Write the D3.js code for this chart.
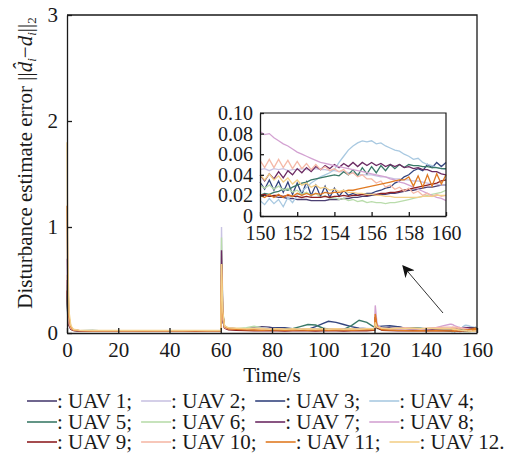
<!DOCTYPE html>
<html>
<head>
<meta charset="utf-8">
<script src="https://cdn.jsdelivr.net/npm/d3@7"></script>
<style>
  body { margin: 0; background: #fff; }
  text { font-family: "Liberation Serif", "Times New Roman", serif; fill: #1a1a1a; }
</style>
</head>
<body>
<svg id="chart" width="521" height="456"></svg>
<script>
// ---- data ----
const uavNames = ["UAV 1", "UAV 2", "UAV 3", "UAV 4", "UAV 5", "UAV 6",
                  "UAV 7", "UAV 8", "UAV 9", "UAV 10", "UAV 11", "UAV 12"];
const uavColors = ["#4b3f72", "#c9c3e3", "#34457e", "#a9c9e1", "#3b7a68", "#b9dcab",
                   "#6b2a62", "#d3a2d2", "#8e1f22", "#f5b9a8", "#e07a22", "#f3d089"];

// main plot sample times (0 - 149.5 s)
const mainT = [0, 0.3, 0.8, 1.5, 2.5, 5, 10, 15, 20, 25, 30, 35, 40, 45, 50, 55, 59.5,
  60, 60.3, 60.8, 61.5, 63, 66, 70, 73, 76, 79, 82, 85, 88, 91, 94, 97, 100, 102, 105,
  108, 111, 114, 117, 119.5, 120, 120.3, 121, 123, 126, 129, 132, 135, 138, 141, 144, 147, 149.5];

const mainVals = [
  [0.45,0.2,0.08,0.04,0.025, 0.02,0.018,0.022,0.02,0.019,0.021,0.02,0.018,0.02,0.022,0.02,0.02, 0.02,0.42,0.12,0.05, 0.04,0.035,0.04,0.05,0.06,0.055,0.04,0.035,0.03,0.03,0.028,0.03,0.035,0.04,0.035,0.03,0.028,0.03,0.03,0.03, 0.03,0.09,0.05, 0.045,0.055,0.06,0.045,0.035,0.03,0.035,0.045,0.04,0.025],
  [0.5,0.22,0.09,0.045,0.03, 0.022,0.02,0.021,0.019,0.02,0.022,0.02,0.021,0.019,0.02,0.021,0.02, 0.02,1.0,0.2,0.06, 0.045,0.04,0.035,0.04,0.045,0.04,0.035,0.035,0.04,0.038,0.035,0.04,0.042,0.04,0.035,0.038,0.04,0.04,0.042,0.04, 0.04,0.12,0.06, 0.045,0.04,0.045,0.05,0.045,0.04,0.045,0.05,0.048,0.045],
  [0.35,0.15,0.07,0.04,0.025, 0.02,0.021,0.019,0.02,0.022,0.02,0.019,0.021,0.02,0.02,0.019,0.02, 0.02,0.45,0.12,0.05, 0.04,0.035,0.03,0.035,0.04,0.045,0.05,0.05,0.04,0.03,0.035,0.06,0.09,0.11,0.1,0.08,0.06,0.045,0.04,0.035, 0.035,0.1,0.06, 0.065,0.07,0.06,0.045,0.035,0.03,0.03,0.035,0.035,0.03],
  [0.4,0.18,0.08,0.04,0.025, 0.02,0.02,0.021,0.02,0.019,0.02,0.021,0.02,0.02,0.019,0.02,0.02, 0.02,0.5,0.14,0.05, 0.035,0.03,0.035,0.045,0.05,0.04,0.035,0.03,0.03,0.035,0.03,0.03,0.035,0.03,0.03,0.028,0.03,0.035,0.03,0.03, 0.03,0.1,0.05, 0.035,0.03,0.03,0.035,0.04,0.035,0.03,0.025,0.02,0.015],
  [0.4,0.18,0.08,0.04,0.025, 0.022,0.025,0.02,0.019,0.021,0.02,0.022,0.02,0.019,0.021,0.02,0.02, 0.02,0.55,0.15,0.05, 0.04,0.035,0.03,0.03,0.035,0.03,0.03,0.035,0.04,0.06,0.08,0.075,0.045,0.035,0.03,0.035,0.07,0.12,0.1,0.06, 0.06,0.12,0.07, 0.04,0.035,0.03,0.04,0.05,0.045,0.035,0.03,0.025,0.02],
  [0.45,0.2,0.08,0.04,0.025, 0.02,0.019,0.021,0.02,0.02,0.019,0.021,0.02,0.02,0.021,0.019,0.02, 0.02,0.9,0.2,0.06, 0.045,0.04,0.05,0.065,0.05,0.04,0.035,0.03,0.03,0.028,0.03,0.03,0.028,0.03,0.025,0.028,0.03,0.03,0.028,0.03, 0.03,0.08,0.04, 0.03,0.028,0.03,0.032,0.03,0.028,0.03,0.035,0.033,0.03],
  [0.5,0.22,0.09,0.045,0.028, 0.02,0.021,0.02,0.022,0.02,0.019,0.02,0.021,0.02,0.02,0.022,0.02, 0.02,0.78,0.18,0.06, 0.045,0.04,0.035,0.03,0.028,0.03,0.035,0.03,0.028,0.03,0.032,0.03,0.028,0.025,0.03,0.032,0.035,0.03,0.03,0.03, 0.03,0.11,0.05, 0.035,0.03,0.032,0.035,0.038,0.035,0.032,0.035,0.04,0.04],
  [0.7,0.3,0.1,0.05,0.03, 0.022,0.02,0.021,0.02,0.019,0.02,0.022,0.02,0.021,0.02,0.02,0.02, 0.02,0.6,0.15,0.06, 0.045,0.04,0.035,0.04,0.045,0.04,0.035,0.03,0.03,0.035,0.03,0.03,0.032,0.03,0.028,0.03,0.035,0.03,0.03,0.04, 0.04,0.26,0.08, 0.04,0.035,0.03,0.035,0.04,0.035,0.04,0.05,0.07,0.082],
  [0.4,0.18,0.07,0.035,0.022, 0.018,0.017,0.019,0.018,0.018,0.017,0.018,0.019,0.018,0.017,0.018,0.018, 0.018,0.45,0.12,0.045, 0.03,0.025,0.022,0.02,0.02,0.022,0.02,0.018,0.02,0.022,0.02,0.018,0.02,0.022,0.02,0.018,0.02,0.022,0.02,0.025, 0.025,0.15,0.05, 0.025,0.022,0.02,0.02,0.022,0.02,0.02,0.022,0.02,0.02],
  [0.55,0.25,0.09,0.045,0.028, 0.022,0.02,0.021,0.022,0.02,0.021,0.02,0.022,0.02,0.021,0.02,0.02, 0.02,0.5,0.13,0.05, 0.04,0.035,0.04,0.035,0.03,0.035,0.04,0.035,0.03,0.035,0.04,0.035,0.03,0.035,0.04,0.035,0.03,0.035,0.04,0.04, 0.04,0.12,0.06, 0.045,0.04,0.045,0.05,0.045,0.04,0.045,0.05,0.055,0.055],
  [1.2,0.5,0.15,0.06,0.03, 0.022,0.021,0.02,0.022,0.021,0.02,0.022,0.021,0.02,0.022,0.021,0.021, 0.021,0.65,0.17,0.06, 0.04,0.035,0.03,0.028,0.025,0.03,0.028,0.025,0.028,0.03,0.025,0.028,0.03,0.025,0.028,0.03,0.025,0.028,0.03,0.03, 0.03,0.18,0.06, 0.03,0.028,0.025,0.022,0.02,0.022,0.02,0.022,0.02,0.02],
  [1.8,0.7,0.2,0.07,0.035, 0.025,0.024,0.025,0.023,0.025,0.024,0.025,0.023,0.024,0.025,0.024,0.024, 0.024,0.65,0.2,0.065, 0.05,0.045,0.04,0.045,0.04,0.035,0.04,0.035,0.04,0.035,0.04,0.035,0.04,0.035,0.04,0.035,0.04,0.035,0.04,0.04, 0.04,0.1,0.055, 0.045,0.04,0.045,0.04,0.045,0.04,0.045,0.04,0.042,0.04]
];

// zoomed window 150 - 160 s, sampled every 0.25 s
const insetT = d3.range(150, 160.001, 0.25);
const insetVals = [
  [0.02,0.02,0.019,0.019, 0.018,0.018,0.017,0.017, 0.016,0.016,0.016,0.015, 0.015,0.015,0.015,0.016, 0.016,0.016,0.017,0.017, 0.018,0.018,0.019,0.019, 0.02,0.02,0.021,0.021, 0.022,0.022,0.023,0.024, 0.025,0.025,0.026,0.027, 0.028,0.028,0.029,0.03, 0.03],
  [0.045,0.046,0.044,0.046, 0.045,0.046,0.044,0.045, 0.045,0.046,0.045,0.045, 0.046,0.045,0.045,0.044, 0.044,0.043,0.043,0.042, 0.042,0.041,0.04,0.04, 0.04,0.039,0.038,0.038, 0.037,0.036,0.036,0.035, 0.035,0.034,0.034,0.033, 0.032,0.031,0.031,0.03, 0.03],
  [0.033,0.026,0.035,0.025, 0.034,0.023,0.033,0.021, 0.032,0.021,0.033,0.02, 0.03,0.019,0.029,0.018, 0.027,0.019,0.025,0.02, 0.022,0.02,0.021,0.022, 0.022,0.024,0.025,0.027, 0.028,0.032,0.034,0.038, 0.04,0.044,0.046,0.044, 0.05,0.047,0.052,0.048, 0.052],
  [0.015,0.011,0.017,0.012, 0.016,0.009,0.018,0.013, 0.02,0.024,0.028,0.032, 0.035,0.038,0.04,0.042, 0.045,0.052,0.058,0.064, 0.068,0.071,0.073,0.072, 0.073,0.07,0.071,0.068, 0.066,0.064,0.063,0.06, 0.058,0.055,0.056,0.052, 0.05,0.049,0.047,0.046, 0.045],
  [0.02,0.022,0.021,0.023, 0.024,0.026,0.025,0.028, 0.03,0.032,0.033,0.035, 0.036,0.037,0.038,0.039, 0.04,0.039,0.043,0.04, 0.045,0.039,0.047,0.041, 0.048,0.042,0.049,0.044, 0.05,0.046,0.05,0.047, 0.05,0.049,0.049,0.048, 0.048,0.047,0.047,0.046, 0.046],
  [0.03,0.027,0.03,0.026, 0.029,0.025,0.027,0.023, 0.025,0.021,0.023,0.02, 0.022,0.018,0.02,0.017, 0.018,0.016,0.017,0.015, 0.016,0.014,0.015,0.013, 0.014,0.013,0.013,0.012, 0.013,0.013,0.014,0.015, 0.016,0.017,0.018,0.019, 0.02,0.021,0.022,0.023, 0.025],
  [0.04,0.034,0.041,0.036, 0.043,0.037,0.044,0.04, 0.046,0.042,0.047,0.043, 0.048,0.045,0.049,0.046, 0.05,0.047,0.051,0.048, 0.052,0.048,0.052,0.049, 0.052,0.049,0.051,0.048, 0.05,0.048,0.05,0.047, 0.048,0.046,0.047,0.045, 0.045,0.043,0.043,0.041, 0.04],
  [0.082,0.079,0.08,0.076, 0.073,0.07,0.068,0.065, 0.062,0.06,0.058,0.056, 0.054,0.052,0.051,0.05, 0.049,0.048,0.047,0.046, 0.045,0.044,0.043,0.042, 0.041,0.04,0.039,0.038, 0.036,0.035,0.033,0.032, 0.03,0.028,0.026,0.024, 0.022,0.02,0.018,0.017, 0.015],
  [0.02,0.021,0.019,0.02, 0.02,0.019,0.02,0.019, 0.019,0.018,0.019,0.018, 0.018,0.018,0.019,0.018, 0.019,0.019,0.02,0.019, 0.02,0.02,0.021,0.02, 0.021,0.021,0.022,0.022, 0.023,0.023,0.024,0.025, 0.026,0.027,0.028,0.029, 0.03,0.031,0.032,0.034, 0.035],
  [0.054,0.047,0.055,0.047, 0.055,0.047,0.054,0.046, 0.053,0.046,0.051,0.045, 0.05,0.045,0.048,0.044, 0.046,0.043,0.045,0.04, 0.042,0.038,0.04,0.036, 0.036,0.032,0.034,0.028, 0.03,0.026,0.028,0.024, 0.027,0.022,0.024,0.02, 0.022,0.019,0.021,0.019, 0.02],
  [0.02,0.018,0.021,0.018, 0.021,0.018,0.021,0.019, 0.022,0.02,0.022,0.02, 0.022,0.021,0.023,0.022, 0.023,0.023,0.024,0.025, 0.025,0.026,0.027,0.028, 0.029,0.03,0.031,0.032, 0.033,0.034,0.035,0.035, 0.038,0.029,0.039,0.028, 0.04,0.029,0.041,0.031, 0.04],
  [0.04,0.035,0.041,0.035, 0.039,0.033,0.037,0.031, 0.035,0.03,0.032,0.028, 0.03,0.027,0.028,0.025, 0.026,0.024,0.025,0.023, 0.023,0.022,0.022,0.021, 0.021,0.02,0.02,0.019, 0.019,0.018,0.018,0.018, 0.018,0.018,0.018,0.019, 0.019,0.019,0.02,0.02, 0.02]
];

const mainXTicks = [0, 20, 40, 60, 80, 100, 120, 140, 160];
const mainYTicks = [0, 1, 2, 3];
const insetXTicks = [150, 152, 154, 156, 158, 160];
const insetYTicks = [0, 0.02, 0.04, 0.06, 0.08, 0.10];

// ---- chart ----
const svg = d3.select('#chart');
const fontSize = '21px';

const x = d3.scaleLinear().domain([0, 160]).range([67, 477]);
const y = d3.scaleLinear().domain([0, 3]).range([333, 15]);

function styleAxis(g, size) {
  g.selectAll('path, line').attr('stroke', '#1a1a1a').attr('stroke-width', 1.3);
  g.selectAll('text').attr('fill', '#1a1a1a').style('font-size', size || fontSize)
    .style('font-family', '"Liberation Serif", "Times New Roman", serif');
}

// full series = coarse part + zoomed window
const series = mainVals.map((vals, k) => {
  const pts = mainT.map((t, i) => [t, vals[i]]);
  insetT.forEach((t, i) => pts.push([t, insetVals[k][i]]));
  return pts;
});

const line = d3.line().x(d => x(d[0])).y(d => y(d[1]));

svg.append('g')
  .selectAll('path')
  .data(series)
  .join('path')
  .attr('d', line)
  .attr('fill', 'none')
  .attr('stroke', (d, i) => uavColors[i])
  .attr('stroke-width', 1.4);

// box
svg.append('path')
  .attr('d', `M${x(0)},${y(3)}H${x(160)}V${y(0)}`)
  .attr('fill', 'none').attr('stroke', '#1a1a1a').attr('stroke-width', 1.3);

svg.append('g')
  .attr('transform', `translate(0,${y(0)})`)
  .call(d3.axisBottom(x).tickValues(mainXTicks).tickSize(-5).tickSizeOuter(0).tickPadding(9))
  .call(g => styleAxis(g));

svg.append('g')
  .attr('transform', `translate(${x(0)},0)`)
  .call(d3.axisLeft(y).tickValues(mainYTicks).tickSize(-5).tickSizeOuter(0).tickPadding(9)
    .tickFormat(d3.format('d')))
  .call(g => styleAxis(g));

// axis titles
svg.append('text')
  .attr('x', 272).attr('y', 382)
  .attr('text-anchor', 'middle')
  .style('font-size', fontSize)
  .text('Time/s');

const yl = svg.append('text')
  .attr('transform', 'translate(32,163) rotate(-90)')
  .attr('text-anchor', 'middle')
  .style('font-size', fontSize);
yl.append('tspan').text('Disturbance estimate error ||');
yl.append('tspan').style('font-style', 'italic').text('d\u0302');
yl.append('tspan').attr('dy', 4).style('font-size', '13px').style('font-style', 'italic').text('i');
yl.append('tspan').attr('dy', -4).text('\u2212');
yl.append('tspan').style('font-style', 'italic').text('d');
yl.append('tspan').attr('dy', 4).style('font-size', '13px').style('font-style', 'italic').text('i');
yl.append('tspan').attr('dy', -4).text('||');
yl.append('tspan').attr('dy', 4).style('font-size', '13px').text('2');

// ---- inset ----
const xi = d3.scaleLinear().domain([150, 160]).range([260, 446]);
const yi = d3.scaleLinear().domain([0, 0.1]).range([216, 113]);

const insetLine = d3.line().x(d => xi(d[0])).y(d => yi(d[1]));
svg.append('g')
  .selectAll('path')
  .data(insetVals.map(vals => insetT.map((t, i) => [t, vals[i]])))
  .join('path')
  .attr('d', insetLine)
  .attr('fill', 'none')
  .attr('stroke', (d, i) => uavColors[i])
  .attr('stroke-width', 1.3);

svg.append('path')
  .attr('d', `M${xi(150)},${yi(0.1)}H${xi(160)}V${yi(0)}`)
  .attr('fill', 'none').attr('stroke', '#1a1a1a').attr('stroke-width', 1.2);

svg.append('g')
  .attr('transform', `translate(0,${yi(0)})`)
  .call(d3.axisBottom(xi).tickValues(insetXTicks).tickSize(-4).tickSizeOuter(0).tickPadding(10))
  .call(g => styleAxis(g, '20px'));

svg.append('g')
  .attr('transform', `translate(${xi(150)},0)`)
  .call(d3.axisLeft(yi).tickValues(insetYTicks).tickSize(-4).tickSizeOuter(0).tickPadding(7)
    .tickFormat(d => d === 0 ? '0' : d3.format('.2f')(d)))
  .call(g => styleAxis(g, '20px'));

// arrow pointing at the zoom window
svg.append('defs').append('marker')
  .attr('id', 'head')
  .attr('viewBox', '0 0 10 10')
  .attr('refX', 9).attr('refY', 5)
  .attr('markerWidth', 12).attr('markerHeight', 12)
  .attr('markerUnits', 'userSpaceOnUse')
  .attr('orient', 'auto')
  .append('path').attr('d', 'M0,0L10,5L0,10L3,5Z').attr('fill', '#111');

svg.append('line')
  .attr('x1', 443).attr('y1', 313).attr('x2', 403).attr('y2', 266)
  .attr('stroke', '#333').attr('stroke-width', 1)
  .attr('marker-end', 'url(#head)');

// ---- legend ----
const legendRows = [[0, 1, 2, 3], [4, 5, 6, 7], [8, 9, 10, 11]];
const rowY = [401, 422, 442];
legendRows.forEach((row, r) => {
  let lx = 27;
  row.forEach((k, j) => {
    svg.append('line')
      .attr('x1', lx).attr('x2', lx + 30)
      .attr('y1', rowY[r]).attr('y2', rowY[r])
      .attr('stroke', uavColors[k]).attr('stroke-width', 1.6);
    const last = (r === 2 && j === 3);
    const t = svg.append('text')
      .attr('x', lx + 30).attr('y', rowY[r] + 7)
      .style('font-size', fontSize)
      .text(': ' + uavNames[k] + (last ? '.' : ';'));
    lx += 30 + t.node().getComputedTextLength() + 9;
  });
});
</script>
</body>
</html>
